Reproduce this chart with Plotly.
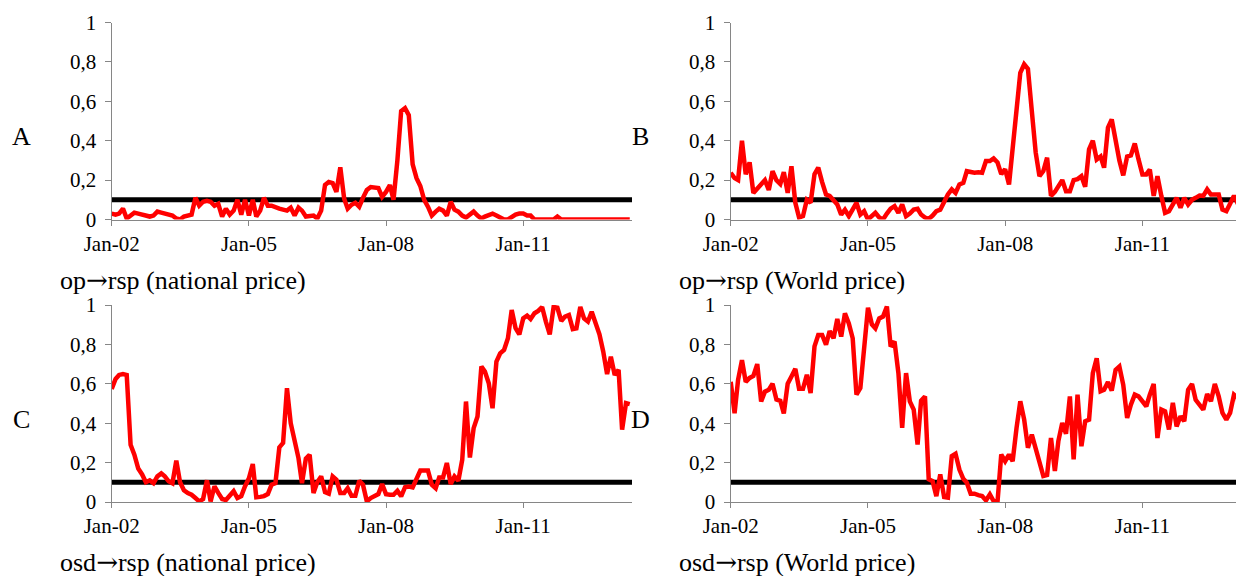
import pandas as pd
import plotly.graph_objects as go

# ---------------- data ----------------
op_rsp_national = [
    0.03, 0.025, 0.03, 0.055, 0.005, 0.02, 0.035, 0.03, 0.025, 0.02,
    0.015, 0.02, 0.04, 0.035, 0.03, 0.025, 0.02, 0.005, 0.0, 0.015,
    0.02, 0.025, 0.11, 0.07, 0.09, 0.095, 0.09, 0.07, 0.08, 0.015,
    0.055, 0.025, 0.045, 0.10, 0.025, 0.10, 0.02, 0.10, 0.015, 0.045,
    0.11, 0.07, 0.07, 0.06, 0.055, 0.05, 0.045, 0.06, 0.02, 0.06,
    0.045, 0.015, 0.015, 0.02, 0.005, 0.045, 0.175, 0.19, 0.185, 0.14,
    0.265, 0.105, 0.055, 0.075, 0.085, 0.065, 0.11, 0.15, 0.165, 0.165,
    0.16, 0.115, 0.14, 0.175, 0.10, 0.30, 0.55, 0.565, 0.53, 0.28,
    0.21, 0.17, 0.10, 0.065, 0.02, 0.04, 0.055, 0.045, 0.02, 0.09,
    0.05, 0.04, 0.02, 0.01, 0.025, 0.04, 0.02, 0.005, 0.015, 0.02,
    0.03, 0.02, 0.01, 0.0, 0.0, 0.015, 0.025, 0.03, 0.03, 0.02,
    0.02, 0.0, 0.0, 0.0, 0.0, 0.0, 0.0, 0.015, 0.0, 0.0,
    0.0, 0.0, 0.0, 0.0, 0.0, 0.0, 0.0, 0.0, 0.0, 0.0,
    0.0, 0.0, 0.0, 0.0, 0.0, 0.0, 0.0,
]

op_rsp_world = [
    0.237, 0.21, 0.2, 0.4, 0.23, 0.29, 0.135, 0.155, 0.18, 0.2,
    0.15, 0.245, 0.2, 0.18, 0.24, 0.135, 0.27, 0.085, 0.01, 0.017,
    0.1, 0.085, 0.23, 0.263, 0.19, 0.127, 0.12, 0.1, 0.076, 0.025,
    0.05, 0.017, 0.05, 0.085, 0.025, 0.042, 0.0, 0.02, 0.034, 0.01,
    0.0, 0.03, 0.055, 0.068, 0.034, 0.076, 0.017, 0.03, 0.05, 0.054,
    0.025, 0.01, 0.003, 0.02, 0.042, 0.05, 0.09, 0.127, 0.153, 0.135,
    0.178, 0.186, 0.245, 0.24, 0.237, 0.24, 0.237, 0.297, 0.297, 0.31,
    0.29, 0.23, 0.255, 0.178, 0.35, 0.58, 0.745, 0.788, 0.765, 0.55,
    0.34, 0.22, 0.246, 0.314, 0.12, 0.14, 0.17, 0.2, 0.144, 0.144,
    0.2, 0.205, 0.22, 0.166, 0.356, 0.4, 0.305, 0.32, 0.263, 0.466,
    0.508, 0.4, 0.3, 0.224, 0.32, 0.325, 0.386, 0.305, 0.229, 0.229,
    0.254, 0.12, 0.22, 0.12, 0.034, 0.042, 0.08, 0.11, 0.06, 0.11,
    0.076, 0.1, 0.11, 0.122, 0.12, 0.153, 0.127, 0.127, 0.127, 0.05,
    0.042, 0.08, 0.12, 0.08, 0.042,
]

osd_rsp_national = [
    0.574, 0.625, 0.645, 0.65, 0.645, 0.29, 0.24, 0.17, 0.14, 0.1,
    0.11, 0.096, 0.13, 0.145, 0.13, 0.105, 0.095, 0.21, 0.1, 0.06,
    0.045, 0.037, 0.02, 0.003, 0.015, 0.11, 0.003, 0.08, 0.046, 0.015,
    0.01, 0.029, 0.055, 0.02, 0.03, 0.08, 0.12, 0.193, 0.024, 0.026,
    0.03, 0.04, 0.088, 0.096, 0.277, 0.3, 0.578, 0.4, 0.3, 0.223,
    0.096, 0.22, 0.24, 0.046, 0.1, 0.13, 0.05, 0.042, 0.13, 0.113,
    0.046, 0.046, 0.07, 0.032, 0.032, 0.108, 0.088, 0.003, 0.02, 0.029,
    0.04, 0.091, 0.04, 0.037, 0.037, 0.057, 0.029, 0.075, 0.078, 0.074,
    0.125, 0.16, 0.16, 0.16, 0.088, 0.07, 0.125, 0.125, 0.198, 0.091,
    0.13, 0.108, 0.215, 0.51, 0.226, 0.375, 0.434, 0.688, 0.662, 0.603,
    0.476, 0.713, 0.755, 0.772, 0.831, 0.975, 0.882, 0.851, 0.932, 0.946,
    0.929, 0.958, 0.97, 0.99, 0.916, 0.851, 0.99, 0.986, 0.919, 0.941,
    0.949, 0.878, 0.882, 0.99, 0.932, 0.916, 0.966, 0.907, 0.851, 0.764,
    0.649, 0.738, 0.645, 0.671, 0.367, 0.502, 0.497,
]

osd_rsp_world = [
    0.61, 0.45, 0.62, 0.72, 0.61, 0.63, 0.64, 0.70, 0.51, 0.56,
    0.57, 0.6, 0.52, 0.514, 0.45, 0.6, 0.637, 0.676, 0.575, 0.575,
    0.646, 0.553, 0.79, 0.848, 0.848, 0.798, 0.868, 0.831, 0.929, 0.84,
    0.958, 0.907, 0.831, 0.545, 0.578, 0.764, 0.986, 0.902, 0.882, 0.932,
    0.941, 0.992, 0.789, 0.815, 0.654, 0.376, 0.654, 0.511, 0.469, 0.292,
    0.514, 0.536, 0.115, 0.106, 0.03, 0.14, 0.025, 0.022, 0.233, 0.245,
    0.165, 0.118, 0.098, 0.042, 0.042, 0.035, 0.03, 0.008, 0.039, 0.005,
    0.0, 0.241, 0.207, 0.241, 0.207, 0.376, 0.511, 0.418, 0.275, 0.342,
    0.275, 0.207, 0.132, 0.137, 0.325, 0.157, 0.309, 0.401, 0.346, 0.536,
    0.216, 0.545, 0.283, 0.41, 0.418, 0.654, 0.73, 0.562, 0.57, 0.609,
    0.565, 0.671, 0.688, 0.595, 0.427, 0.494, 0.545, 0.536, 0.514, 0.486,
    0.545, 0.599, 0.325, 0.469, 0.46, 0.368, 0.503, 0.384, 0.435, 0.41,
    0.57, 0.599, 0.519, 0.494, 0.469, 0.548, 0.511, 0.599, 0.536, 0.452,
    0.418, 0.452, 0.545, 0.528, 0.325,
]

threshold = 0.1
start_month = "2002-01-01"
x_tick_dates = ["2002-01-01", "2005-01-01", "2008-01-01", "2011-01-01"]
x_tick_labels = ["Jan-02", "Jan-05", "Jan-08", "Jan-11"]
y_tick_vals = [0, 0.2, 0.4, 0.6, 0.8, 1]
y_tick_labels = ["0", "0,2", "0,4", "0,6", "0,8", "1"]

ARROW = "<span style=\"font-family:'DejaVu Serif'\">\u2192</span>"
panel_letters = ["A", "B", "C", "D"]
panel_titles = [
    "op" + ARROW + "rsp (national price)",
    "op" + ARROW + "rsp (World price)",
    "osd" + ARROW + "rsp (national price)",
    "osd" + ARROW + "rsp (World price)",
]
series = [op_rsp_national, op_rsp_world, osd_rsp_national, osd_rsp_world]

# ---------------- layout geometry ----------------
OFF = 8                      # page body margin of the html page
W, H = 1244 - OFF, 576 - OFF
FONT = "Liberation Serif, Times New Roman, serif"
RED = "#ff0000"
AXIS_GREY = "#868686"

# screen pixel boxes (left, right, top(y=1), bottom(y=0))
boxes = [
    (111.7, 632.0, 22.5, 219.5),
    (730.7, 1244.0, 22.5, 219.5),
    (111.7, 632.0, 305.0, 502.0),
    (730.7, 1244.0, 305.0, 502.0),
]
x_ranges = [
    ["2002-01-01", "2013-05-19"],
    ["2002-01-01", "2013-03-22"],
    ["2002-01-01", "2013-05-19"],
    ["2002-01-01", "2013-03-22"],
]
letter_pos = [(21, 136), (640, 136), (21, 419), (640, 419)]
title_pos = [(58, 280), (677, 280), (58, 562), (677, 562)]


def px_x(v):
    return (v - OFF) / W


def px_y(v):
    return (H - (v - OFF)) / H


fig = go.Figure()

for i, vals in enumerate(series):
    n = i + 1
    xa = "x" if n == 1 else f"x{n}"
    ya = "y" if n == 1 else f"y{n}"
    dates = pd.date_range(start_month, periods=len(vals), freq="MS")
    fig.add_trace(go.Scatter(
        x=x_ranges[i], y=[threshold, threshold],
        mode="lines", line=dict(color="black", width=5),
        xaxis=xa, yaxis=ya, showlegend=False, hoverinfo="skip"))
    fig.add_trace(go.Scatter(
        x=dates, y=vals, mode="lines",
        line=dict(color=RED, width=4.5),
        xaxis=xa, yaxis=ya, showlegend=False))

    l, r, t, b = boxes[i]
    xdom = [max(0.0, px_x(l)), min(1.0, px_x(r))]
    ydom = [px_y(b), px_y(t)]
    xkey = "xaxis" if n == 1 else f"xaxis{n}"
    ykey = "yaxis" if n == 1 else f"yaxis{n}"
    fig.layout[xkey] = dict(
        domain=xdom, anchor=ya, type="date", range=x_ranges[i],
        tickmode="array", tickvals=x_tick_dates, ticktext=x_tick_labels,
        ticks="outside", ticklen=5, tickcolor=AXIS_GREY, tickwidth=1.3,
        showline=True, linecolor=AXIS_GREY, linewidth=1.3,
        showgrid=False, zeroline=False, automargin=False,
        ticklabelstandoff=0,
        tickfont=dict(family=FONT, size=21, color="black"),
        fixedrange=True)
    fig.layout[ykey] = dict(
        domain=ydom, anchor=xa, range=[0, 1],
        tickmode="array", tickvals=y_tick_vals, ticktext=y_tick_labels,
        ticks="outside", ticklen=6, tickcolor=AXIS_GREY, tickwidth=1.3,
        showline=True, linecolor=AXIS_GREY, linewidth=1.3,
        showgrid=False, zeroline=False, automargin=False,
        ticklabelstandoff=4,
        tickfont=dict(family=FONT, size=21, color="black"),
        fixedrange=True)

annotations = []
for i in range(4):
    lx, ly = letter_pos[i]
    annotations.append(dict(
        x=px_x(lx), y=px_y(ly), xref="paper", yref="paper",
        text=panel_letters[i], showarrow=False, xanchor="center", yanchor="middle",
        font=dict(family=FONT, size=26, color="black")))
    tx, ty = title_pos[i]
    annotations.append(dict(
        x=px_x(tx), y=px_y(ty), xref="paper", yref="paper",
        text=panel_titles[i], showarrow=False, xanchor="left", yanchor="middle",
        font=dict(family=FONT, size=26, color="black")))

fig.update_layout(
    width=W, height=H, autosize=False,
    margin=dict(l=0, r=0, t=0, b=0, pad=0, autoexpand=False),
    paper_bgcolor="white", plot_bgcolor="white",
    annotations=annotations,
    showlegend=False,
)

fig.write_html("out.html", config={"displayModeBar": False})
